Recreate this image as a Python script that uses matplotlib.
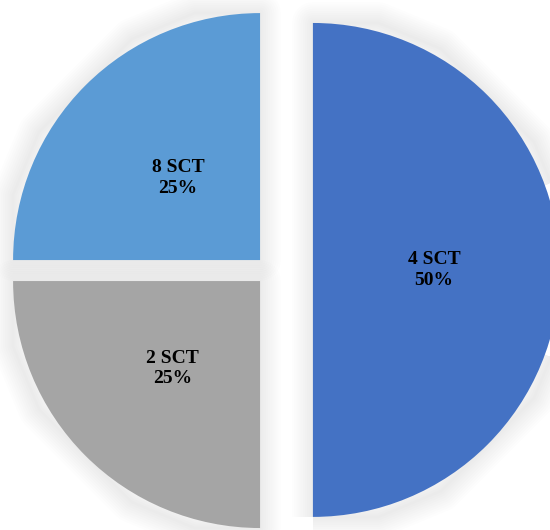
import numpy as np
import matplotlib.pyplot as plt

# share of each configuration
etiquetas = ['4 SCT', '2 SCT', '8 SCT']
valores = [50, 25, 25]
colores = ['#4472C4', '#A5A5A5', '#5B9BD5']

# displacement of each slice from the pie centre (radius units)
desplazamiento = [(0.107, 0.0), (-0.107, -0.045), (-0.107, 0.040)]
pos_texto = [0.49, 0.50, 0.47]

fig = plt.figure(figsize=(5.5, 5.3), dpi=100)
ax = fig.add_axes([0, 0, 1, 1])

cunas, _ = ax.pie(valores, colors=colores, startangle=90, counterclock=False,
                  radius=1.0, wedgeprops=dict(linewidth=0))

for cuna, (dx, dy), etq, v, d in zip(cunas, desplazamiento, etiquetas, valores, pos_texto):
    cuna.set_center((dx, dy))
    cuna.set_zorder(3)
    # soft shadow around the slice
    for w in np.linspace(2, 30, 10):
        sombra = plt.Polygon(cuna.get_path().vertices, closed=True, fill=False,
                             edgecolor='black', linewidth=w, alpha=0.006,
                             joinstyle='round', zorder=1)
        sombra.set_transform(cuna.get_patch_transform() + ax.transData)
        ax.add_patch(sombra)
    ang = np.deg2rad((cuna.theta1 + cuna.theta2) / 2)
    x = dx + d * np.cos(ang)
    y = dy + d * np.sin(ang)
    ax.text(x, y, '%s\n%d%%' % (etq, v), ha='center', va='center',
            fontsize=14, fontweight='bold', family='Liberation Serif',
            linespacing=1.25, zorder=5)

ax.set_xlim(-1.160, 1.067)
ax.set_ylim(-1.053, 1.093)
ax.set_aspect('auto')
ax.axis('off')

fig.savefig('out.png', dpi=100, facecolor='white')
